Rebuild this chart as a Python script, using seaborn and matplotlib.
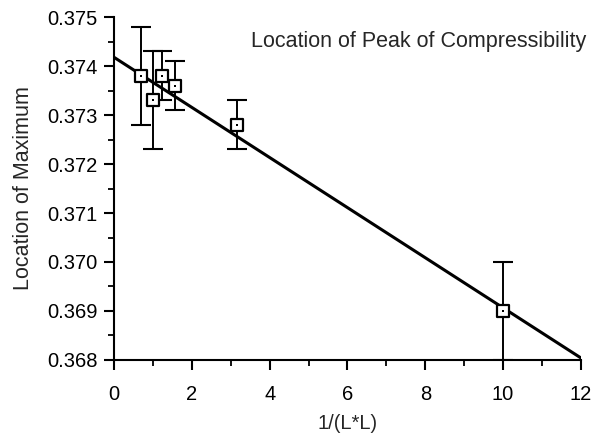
import matplotlib
matplotlib.use("Agg")
import matplotlib.pyplot as plt
import seaborn as sns
import pandas as pd
import numpy as np
from matplotlib.ticker import MultipleLocator, FormatStrFormatter

# data
inv_L2 = [0.69, 1.0, 1.23, 1.56, 3.16, 10.0]
peak_loc = [0.3738, 0.3733, 0.3738, 0.3736, 0.3728, 0.3690]
peak_err = [0.0010, 0.0010, 0.0005, 0.0005, 0.0005, 0.0010]
fit_x = [0.0, 12.0]
fit_y = [0.37418, 0.36804]

sns.set_style("ticks")
plt.rcParams['font.family'] = ['Liberation Sans', 'DejaVu Sans']

fig = plt.figure(figsize=(5.94, 4.4), dpi=100)
ax = fig.add_axes([0.192, 0.182, 0.786, 0.779])

df = pd.DataFrame({"x": inv_L2, "y": peak_loc, "err": peak_err})
fit = pd.DataFrame({"x": fit_x, "y": fit_y})

sns.lineplot(data=fit, x="x", y="y", ax=ax, color="black", linewidth=2.2, zorder=2)
ax.errorbar(df["x"], df["y"], yerr=df["err"], fmt="none", ecolor="black",
            elinewidth=1.4, capsize=7, capthick=1.5, zorder=3)
sns.scatterplot(data=df, x="x", y="y", ax=ax, marker="s", s=85, facecolor="white",
                edgecolor="black", linewidth=1.6, zorder=4)
sns.scatterplot(data=df, x="x", y="y", ax=ax, marker="s", s=4, color="black",
                edgecolor="black", linewidth=0, zorder=5)

ax.set_xlim(0, 12)
ax.set_ylim(0.368, 0.375)
ax.xaxis.set_major_locator(MultipleLocator(2))
ax.xaxis.set_minor_locator(MultipleLocator(1))
ax.yaxis.set_major_locator(MultipleLocator(0.001))
ax.yaxis.set_minor_locator(MultipleLocator(0.0005))
ax.yaxis.set_major_formatter(FormatStrFormatter("%.3f"))

for s in ["top", "right"]:
    ax.spines[s].set_visible(False)
for s in ["left", "bottom"]:
    ax.spines[s].set_linewidth(1.5)
    ax.spines[s].set_color("black")

ax.tick_params(which="major", direction="out", length=7, width=1.5, labelsize=14.5,
               colors="black")
ax.tick_params(axis="x", which="major", pad=11)
ax.tick_params(axis="y", which="major", pad=5)
ax.tick_params(which="minor", direction="out", length=4, width=1.3, colors="black")

ax.set_xlabel("1/(L*L)", fontsize=14.5, labelpad=7)
ax.set_ylabel("Location of Maximum", fontsize=15.5, labelpad=9)
ax.text(1.012, 0.93, "Location of Peak of Compressibility", transform=ax.transAxes,
        ha="right", va="center", fontsize=15.5)

fig.savefig("out.png", dpi=100)
